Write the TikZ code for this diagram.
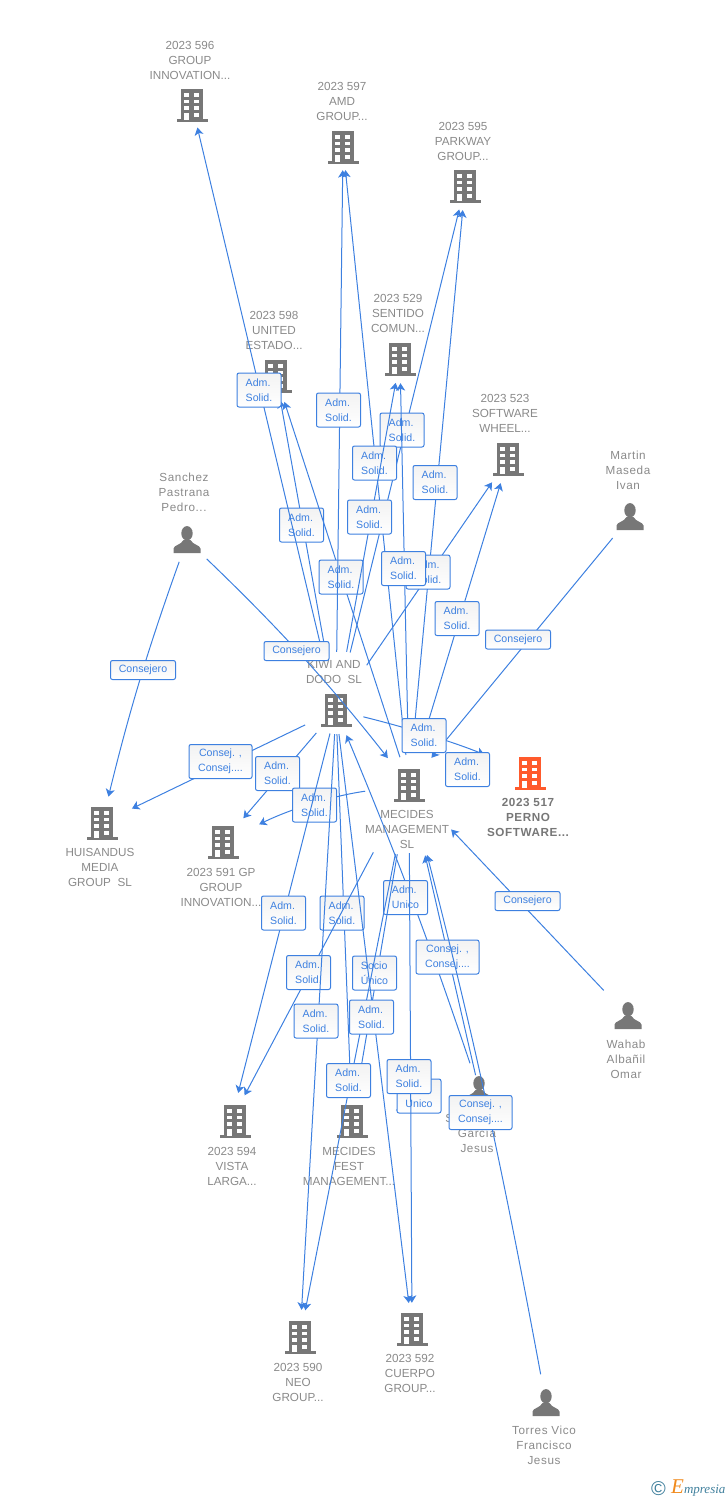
\documentclass[tikz,border=0pt]{standalone}
\usepackage{fontspec}
\setmainfont{Liberation Sans}
\newfontfamily\logofont{Liberation Serif}
\newfontfamily\widefont[LetterSpace=5]{Liberation Sans}
\usetikzlibrary{arrows.meta}
\definecolor{iconc}{HTML}{777777}
\definecolor{hot}{HTML}{FF5A2C}
\definecolor{logoe}{HTML}{F08A1D}
\definecolor{txt}{HTML}{8A8A8A}
\definecolor{wire}{HTML}{3D80E0}
\definecolor{teal}{HTML}{3F7F9C}
\tikzset{
  ent/.style={inner sep=0pt, minimum size=0pt},
  lab/.style={text=txt, align=center, font=\fontsize{11.7}{15}\selectfont},
  labp/.style={text=txt, align=center, font=\widefont\fontsize{11.7}{15}\selectfont},
  labb/.style={text=iconc, align=center, font=\widefont\fontsize{11.7}{15}\selectfont\bfseries},
  link/.style={draw=wire, line width=1pt, -{Stealth[length=7.5pt,width=9pt,inset=2pt]}},
  adm/.style={draw=wire, line width=1pt, rounded corners=2pt, top color=black!5, bottom color=white,
    text=wire, inner xsep=6pt, inner ysep=1pt, minimum width=44pt, minimum height=34pt, align=left,
    font=\fontsize{10.6}{15}\selectfont},
  cons/.style={adm, align=center, inner xsep=3pt, minimum width=63pt},
  conse/.style={adm, align=center, inner xsep=3pt, minimum width=65pt, minimum height=19pt},
  pics/tower/.style={code={
    \fill[pic actions] (-11.5,-16) rectangle (11,15);
    \fill[pic actions] (-15.5,14) rectangle (15.5,17);
    \foreach \py in {-12,-5.3,1.3} {
      \fill[white] (-7.7,\py) rectangle (-2.7,\py+3.7);
      \fill[white] (2.3,\py) rectangle (7.3,\py+3.7);
    }
    \fill[white] (-7.7,7.5) rectangle (-2.7,14.5);
    \fill[white] (2.3,8) rectangle (7.3,11.7);
  }},
  pics/man/.style={code={
    \fill[pic actions] (0,-6.7) ellipse (5.7 and 7.2);
    \fill[pic actions] (-13.5,13) -- (-13.5,8.5) .. controls (-13,5) and (-6,5) .. (-3.5,0)
      -- (3.5,0) .. controls (6,5) and (13,5) .. (13.5,8.5) -- (13.5,13) -- cycle;
  }},
}
\begin{document}
\begin{tikzpicture}[x=1pt,y=-1pt]
  \useasboundingbox (0,0) rectangle (728,1500);
  % entities
  \node[ent] (e596) at (192,105) {};
  \node[ent] (e597) at (343,147) {};
  \node[ent] (e595) at (465,186) {};
  \node[ent] (e598) at (276,376) {};
  \node[ent] (e529) at (400,359) {};
  \node[ent] (e523) at (508,459) {};
  \node[ent] (martin) at (630,517) {};
  \node[ent] (sanchez) at (187,540) {};
  \node[ent] (kiwi) at (336,710) {};
  \node[ent] (mecm) at (409,785) {};
  \node[ent] (perno) at (530,773) {};
  \node[ent] (huis) at (102,823) {};
  \node[ent] (e591) at (223,842) {};
  \node[ent] (e594) at (235,1121) {};
  \node[ent] (fest) at (352,1121) {};
  \node[ent] (garcia) at (479,1090) {};
  \node[ent] (e590) at (300,1337) {};
  \node[ent] (e592) at (412,1329) {};
  \node[ent] (torres) at (546,1403) {};
  \node[ent] (wahab) at (628,1016) {};
  \coordinate (e594t) at (231,1121);
  \pic[fill=iconc] at (e596) {tower};
  \pic[fill=iconc] at (e597) {tower};
  \pic[fill=iconc] at (e595) {tower};
  \pic[fill=iconc] at (e598) {tower};
  \pic[fill=iconc] at (e529) {tower};
  \pic[fill=iconc] at (e523) {tower};
  \pic[fill=iconc] at (kiwi) {tower};
  \pic[fill=iconc] at (mecm) {tower};
  \pic[fill=hot] at (perno) {tower};
  \pic[fill=iconc] at (huis) {tower};
  \pic[fill=iconc] at (e591) {tower};
  \pic[fill=iconc] at (e594) {tower};
  \pic[fill=iconc] at (fest) {tower};
  \pic[fill=iconc] at (e590) {tower};
  \pic[fill=iconc] at (e592) {tower};
  \pic[fill=iconc] at (martin) {man};
  \pic[fill=iconc] at (sanchez) {man};
  \pic[fill=iconc] at (garcia) {man};
  \pic[fill=iconc] at (torres) {man};
  \pic[fill=iconc] at (wahab) {man};
  % texts
  \node[lab] (l596) at (190,60) {2023 596\\GROUP\\INNOVATION...};
  \node[lab] (l597) at (342,101) {2023 597\\AMD\\GROUP...};
  \node[lab] (l595) at (463,141) {2023 595\\PARKWAY\\GROUP...};
  \node[lab] (l598) at (274,330) {2023 598\\UNITED\\ESTADO...};
  \node[lab] (l529) at (398,313) {2023 529\\SENTIDO\\COMUN...};
  \node[lab] (l523) at (505,413) {2023 523\\SOFTWARE\\WHEEL...};
  \node[labp] (lmartin) at (628,470) {Martin\\Maseda\\Ivan};
  \node[labp] (lsanchez) at (184,492) {Sanchez\\Pastrana\\Pedro...};
  \node[lab] (lkiwi) at (334,672) {KIWI AND\\DODO\ \ SL};
  \node[lab] (lmecm) at (407,829) {MECIDES\\MANAGEMENT\\SL};
  \node[labb] (lperno) at (528,817) {2023 517\\PERNO\\SOFTWARE...};
  \node[lab] (lhuis) at (100,867) {HUISANDUS\\MEDIA\\GROUP\ \ SL};
  \node[lab] (l591) at (221,887) {2023 591 GP\\GROUP\\INNOVATION...};
  \node[lab] (l594) at (232,1166) {2023 594\\VISTA\\LARGA...};
  \node[lab] (lfest) at (349,1166) {MECIDES\\FEST\\MANAGEMENT...};
  \node[labp] (lgarcia) at (477,1133) {S\phantom{anchez Vi}\\García\\Jesus};
  \node[lab] (l590) at (298,1382) {2023 590\\NEO\\GROUP...};
  \node[lab] (l592) at (410,1373) {2023 592\\CUERPO\\GROUP...};
  \node[labp] (ltorres) at (544,1445) {Torres Vico\\Francisco\\Jesus};
  \node[labp] (lwahab) at (626,1059) {Wahab\\Albañil\\Omar};
  % upper links
  \draw[link, shorten <=59pt, shorten >=25pt] (kiwi) -- (e598);
  \node[adm] (t598a) at (301.5,525) {Adm.\\Solid.};
  \draw[link, shorten <=29pt, shorten >=27pt] (mecm) -- (e598);
  \node[adm] (t598b) at (341,577) {Adm.\\Solid.};
  \draw[link, shorten <=59pt, shorten >=23pt] (kiwi) -- (e596);
  \node[adm] (t596) at (259,390) {Adm.\\Solid.};
  \draw[link, shorten <=58pt, shorten >=23pt] (kiwi) -- (e597);
  \node[adm] (t597a) at (338.5,410) {Adm.\\Solid.};
  \draw[link, shorten <=59pt, shorten >=24pt] (kiwi) -- (e595);
  \node[adm] (t595a) at (402,430) {Adm.\\Solid.};
  \draw[link, shorten <=30pt, shorten >=23pt] (mecm) -- (e597);
  \node[adm] (t597b) at (374.5,463) {Adm.\\Solid.};
  \draw[link, shorten <=59pt, shorten >=24pt] (kiwi) -- (e529);
  \node[adm] (t529a) at (369.5,517) {Adm.\\Solid.};
  \draw[link, shorten <=32pt, shorten >=24pt] (mecm) -- (e595);
  \node[adm] (t595b) at (435,482.5) {Adm.\\Solid.};
  \draw[link, shorten <=54pt, shorten >=28pt] (kiwi) -- (e523);
  \node[adm] (t523a) at (428,572) {Adm.\\Solid.};
  \draw[link, shorten <=32pt, shorten >=24pt] (mecm) -- (e529);
  \node[adm] (t529b) at (403.5,568.5) {Adm.\\Solid.};
  \draw[link, shorten <=35pt, shorten >=25pt] (mecm) -- (e523);
  \node[adm] (t523b) at (457,618.5) {Adm.\\Solid.};
  \draw[link, shorten <=27pt, shorten >=34pt] (sanchez) to[bend left=4] (mecm);
  \node[conse] (tsan) at (296.5,651) {Consejero};
  \draw[link, shorten <=27pt, shorten >=35pt] (martin) -- (mecm);
  \node[conse] (tmar) at (518,639.5) {Consejero};
  \draw[link, shorten <=28pt, shorten >=49pt] (kiwi) to[bend left=4] (perno);
  \node[adm] (tper) at (424,735.5) {Adm.\\Solid.};
  \node[adm] (tperb) at (467.5,769.5) {Adm.\\Solid.};
  \draw[link, shorten <=34pt, shorten >=33pt] (kiwi) -- (huis);
  \node[cons] (thuis) at (220.5,761.5) {Consej. ,\\Consej....};
  \draw[link, shorten <=23pt, shorten >=27pt] (sanchez) to[bend right=3] (huis);
  \node[conse] (thuisb) at (143,670) {Consejero};
  \draw[link, shorten <=30pt, shorten >=31pt] (kiwi) -- (e591);
  \node[adm] (t591a) at (277.5,773.5) {Adm.\\Solid.};
  \draw[link, shorten <=44pt, shorten >=40pt] (mecm) to[bend right=9] (e591);
  \node[adm] (t591b) at (314.5,805) {Adm.\\Solid.};
  % lower links
  \draw[link, shorten <=28pt, shorten >=27pt] (garcia) to[bend right=2] (kiwi);
  \node[adm] (tuni) at (405.5,897.5) {Adm.\\Unico};
  \draw[link, shorten <=24pt, shorten >=29pt] (kiwi) -- (e594t);
  \node[adm] (t594a) at (283.5,913) {Adm.\\Solid.};
  \draw[link, shorten <=24pt, shorten >=26pt] (kiwi) -- (fest);
  \node[adm] (tfesta) at (342,913) {Adm.\\Solid.};
  \draw[link, shorten <=76pt, shorten >=29pt] (mecm) -- (e594t);
  \node[adm] (t594b) at (308.5,972.5) {Adm.\\Solid.};
  \draw[link, shorten <=24pt, shorten >=27pt] (kiwi) -- (e590);
  \node[adm] (t590a) at (316,1021) {Adm.\\Solid.};
  \draw[link, shorten <=15pt, shorten >=72pt] (garcia) -- (mecm);
  \node[cons] (tcga) at (447.5,957) {Consej. ,\\Consej....};
  \draw[link, shorten <=29pt, shorten >=72pt] (torres) to[bend right=2] (mecm);
  \node[cons] (tcgb) at (480.5,1112.5) {Consej. ,\\Consej....};
  \draw[link, shorten <=35pt, shorten >=61pt] (wahab) -- (mecm);
  \node[conse] (twah) at (527.5,901) {Consejero};
  \draw[link, shorten <=70pt, shorten >=29pt] (mecm) -- (fest);
  \node[adm] (tsoc) at (374.5,973) {Socio\\Único};
  \draw[link, shorten <=70pt, shorten >=27pt] (mecm) -- (e590);
  \node[adm] (t590b) at (348.5,1080.5) {Adm.\\Solid.};
  \draw[link, shorten <=24pt, shorten >=26pt] (kiwi) -- (e592);
  \node[adm] (t592a) at (371.5,1017) {Adm.\\Solid.};
  \draw[link, shorten <=45pt, shorten >=45pt] (garcia) -- (fest);
  \node[adm] (tfestb) at (419,1096) {\phantom{Adm.}\\Unico};
  \draw[link, shorten <=68pt, shorten >=26pt] (mecm) -- (e592);
  \node[adm] (t592b) at (409,1076.5) {Adm.\\Solid.};
  % logo
  \node[ent, text=teal, font=\fontsize{20}{20}\selectfont] (copyr) at (658.5,1489) {©};
  \node[ent, text=teal, font=\logofont\itshape\fontsize{13}{13}\selectfont, anchor=base west] (emp) at (671,1493) {\textcolor{logoe}{\fontsize{21}{21}\selectfont E}mpresia};
\end{tikzpicture}
\end{document}
